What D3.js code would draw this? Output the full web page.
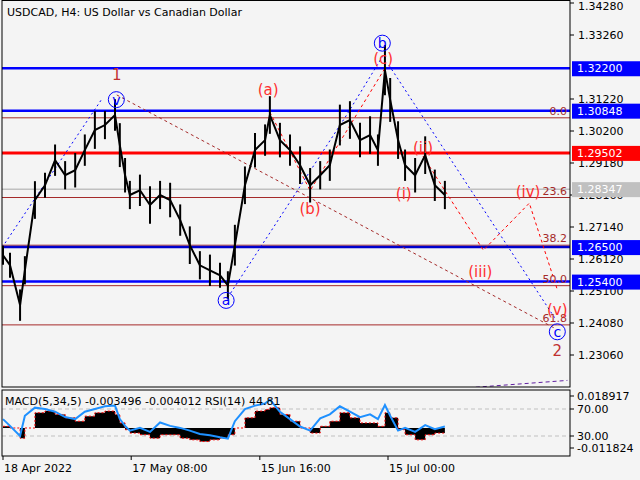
<!doctype html>
<html>
<head>
  <meta charset="UTF-8">
  <title>USDCAD H4</title>
  <style>
    body { margin: 0; background: #f4f4f4; }
    text { font-family: "DejaVu Sans", sans-serif; }
  </style>
</head>
<body>
  <script src="https://cdnjs.cloudflare.com/ajax/libs/d3/7.8.5/d3.min.js"></script>
  <script>
  // days after 18 Apr 2022, close prices
  var days = [0, 1.6, 3.9, 5.0, 7.3, 9.6, 11.9, 14.2, 16.5, 18.7, 21.0, 23.3, 25.6, 26.7, 27.9, 29.0, 31.3, 33.6, 35.9, 38.2,
    40.5, 42.7, 45.0, 47.3, 49.6, 51.4, 53.0, 55.3, 57.6, 59.9, 61.0, 63.3, 65.6, 67.9, 70.2, 72.5, 74.7, 77.0, 79.3, 81.6,
    83.9, 85.7, 87.3, 88.5, 90.3, 91.9, 94.2, 96.5, 98.7, 101];
  var closes = [1.2624, 1.2592, 1.2465, 1.2576, 1.2800, 1.2847, 1.2927, 1.2879, 1.2895, 1.2959, 1.3023, 1.3039, 1.3071, 1.2975, 1.2879, 1.2816, 1.2831, 1.2784, 1.2816, 1.2800,
    1.2736, 1.2656, 1.2592, 1.2576, 1.2560, 1.2528, 1.2656, 1.2847, 1.2959, 1.2991, 1.3071, 1.2991, 1.2959, 1.2911, 1.2847, 1.2879, 1.2911, 1.3039, 1.3055, 1.2991,
    1.3007, 1.2959, 1.3214, 1.3119, 1.2991, 1.2911, 1.2879, 1.2943, 1.2847, 1.2816];
  // bar ranges (high - low) around each close
  var ranges = [0.006, 0.008, 0.010, 0.009, 0.012, 0.008, 0.010, 0.009, 0.011, 0.010, 0.012, 0.009, 0.010, 0.014, 0.011, 0.009, 0.010, 0.012, 0.009, 0.011,
    0.010, 0.012, 0.009, 0.010, 0.008, 0.009, 0.013, 0.012, 0.011, 0.010, 0.012, 0.011, 0.010, 0.012, 0.011, 0.009, 0.010, 0.013, 0.012, 0.011,
    0.012, 0.010, 0.016, 0.014, 0.012, 0.010, 0.011, 0.012, 0.010, 0.009];
  var rsi = [55, 45, 30, 60, 72, 70, 66, 58, 55, 66, 70, 74, 75, 55, 45, 38, 42, 36, 50, 45,
    42, 38, 33, 31, 28, 26, 52, 70, 75, 78, 84, 66, 55, 44, 38, 56, 62, 74, 66, 58,
    62, 55, 76, 60, 38, 42, 36, 46, 40, 44];
  var macd = [0.001, 0.000, -0.006, 0.000, 0.009, 0.010, 0.008, 0.006, 0.004, 0.007, 0.009, 0.010, 0.008, 0.003, -0.001, -0.003, -0.004, -0.006, -0.004, -0.004,
    -0.006, -0.007, -0.008, -0.007, -0.006, -0.004, 0.000, 0.006, 0.010, 0.011, 0.012, 0.008, 0.004, 0.000, -0.003, 0.001, 0.004, 0.009, 0.006, 0.003,
    0.003, 0.001, 0.009, 0.006, -0.001, -0.004, -0.007, -0.004, -0.003, -0.003];
  var priceTicks = [1.34280, 1.33260, 1.31220, 1.30200, 1.29180, 1.28160, 1.27140, 1.26120, 1.25100, 1.24080, 1.23060];
  var dateTicks = [[0, '18 Apr 2022'], [29.3, '17 May 08:00'], [58.7, '15 Jun 16:00'], [88, '15 Jul 00:00']];
  // horizontal levels: price, colour, width, label box colour
  var levels = [[1.32200, '#0000ff', 2.5, '#0000ff'], [1.30848, '#0000ff', 2.5, '#0000ff'], [1.29502, '#ff0000', 3, '#ff0000'],
    [1.28347, '#c0c0c0', 1.5, '#c0c0c0'], [1.26500, '#0000cc', 2.5, '#0000ff'], [1.25400, '#0000ff', 2.5, '#0000ff']];
  var fibs = [[1.3062, '0.0'], [1.2808, '23.6'], [1.2656, '38.2'], [1.2527, '50.0'], [1.2402, '61.8']];
  // wave paths [day, price]
  var blueWaves = [[[-4, 1.2570], [22.5, 1.3120]], [[51.4, 1.2490], [78.5, 1.3070], [87.3, 1.3270]],
    [[88.2, 1.3230], [126.3, 1.2420]]];
  var redWaves = [[[61.0, 1.3080], [70.2, 1.2830], [87.3, 1.3220]],
    [[96.0, 1.2940], [101, 1.2830], [109.8, 1.2640], [120.3, 1.2790], [126.8, 1.2510]]];
  var brownWaves = [[[26.0, 1.3135], [126.3, 1.2390]]];
  var purpleWave = [[95.3, 1.2190], [129, 1.2225]];
  var waveLabels = [[26, 1.3200, '1', '#c03030', 'plain'], [126.7, 1.2320, '2', '#c03030', 'plain'],
    [25.9, 1.3120, 'v', '#0000ff', 'circle'], [51.0, 1.2480, 'a', '#0000ff', 'circle'], [86.7, 1.3300, 'b', '#0000ff', 'circle'], [126.7, 1.2380, 'c', '#0000ff', 'circle'],
    [60.6, 1.3150, '(a)', '#ff3030', 'plain'], [70.2, 1.2770, '(b)', '#ff3030', 'plain'], [86.9, 1.3250, '(c)', '#ff3030', 'plain'],
    [91.6, 1.2820, '(i)', '#ff3030', 'plain'], [96.0, 1.2965, '(ii)', '#ff3030', 'plain'], [109.1, 1.2570, '(iii)', '#ff3030', 'plain'],
    [120.0, 1.2825, '(iv)', '#ff3030', 'plain'], [126.7, 1.2450, '(v)', '#ff3030', 'plain']];

  var W = 640, H = 480, R = 570;
  var svg = d3.select('body').append('svg').attr('width', W).attr('height', H)
    .style('display', 'block').style('background', '#f4f4f4');
  var t0 = new Date(2022, 3, 18);
  var dt = function(d) { return new Date(t0.getTime() + d * 864e5); };
  var x = d3.scaleTime().domain([dt(0), dt(88)]).range([3, 388]);
  var y = d3.scaleLinear().domain([1.3428, 1.2306]).range([3, 355]);

  var main = svg.append('g');
  var defs = svg.append('defs');
  defs.append('clipPath').attr('id', 'clipm').append('rect')
    .attr('x', 2).attr('y', 1).attr('width', R - 2).attr('height', 386);
  var plot = main.append('g').attr('clip-path', 'url(#clipm)');

  fibs.forEach(function(f) {
    plot.append('line').attr('x1', 0).attr('x2', R).attr('y1', y(f[0])).attr('y2', y(f[0]))
      .attr('stroke', '#a52a2a').attr('stroke-width', 1);
    main.append('text').attr('x', 567).attr('y', y(f[0]) - 3).attr('text-anchor', 'end')
      .attr('font-size', 11).attr('fill', '#a52a2a').text(f[1]);
  });
  levels.forEach(function(l) {
    plot.append('line').attr('x1', 0).attr('x2', R).attr('y1', y(l[0])).attr('y2', y(l[0]))
      .attr('stroke', l[1]).attr('stroke-width', l[2]);
  });

  var lp = d3.line().x(function(p) { return x(dt(p[0])); }).y(function(p) { return y(p[1]); });
  var drawPaths = function(list, color, dash) {
    list.forEach(function(p) {
      plot.append('path').attr('d', lp(p)).attr('fill', 'none').attr('stroke', color)
        .attr('stroke-width', 1).attr('stroke-dasharray', dash);
    });
  };
  drawPaths(brownWaves, '#a52a2a', '3,3');
  drawPaths(blueWaves, '#0000ff', '2,3');
  drawPaths(redWaves, '#ff0000', '3,3');
  drawPaths([purpleWave], '#6020a0', '4,3');

  var series = days.map(function(d, i) { return [d, closes[i]]; });
  plot.selectAll('line.bar').data(series).enter().append('line').attr('class', 'bar')
    .attr('x1', function(d) { return x(dt(d[0])); }).attr('x2', function(d) { return x(dt(d[0])); })
    .attr('y1', function(d, i) { return y(d[1] + ranges[i] / 2); })
    .attr('y2', function(d, i) { return y(d[1] - ranges[i] / 2); })
    .attr('stroke', '#000').attr('stroke-width', 2);
  plot.append('path').attr('d', lp(series)).attr('fill', 'none').attr('stroke', '#000')
    .attr('stroke-width', 2);

  waveLabels.forEach(function(w) {
    var cx = x(dt(w[0])), cy = y(w[1]);
    if (w[4] == 'circle') {
      main.append('circle').attr('cx', cx).attr('cy', cy).attr('r', 8).attr('fill', 'none')
        .attr('stroke', w[3]).attr('stroke-width', 1);
    }
    main.append('text').attr('x', cx).attr('y', cy + 5).attr('text-anchor', 'middle')
      .attr('font-size', w[4] == 'circle' ? 14 : 15).attr('fill', w[3]).text(w[2]);
  });

  main.append('text').attr('x', 7).attr('y', 16).attr('font-size', 11).attr('fill', '#000')
    .text('USDCAD, H4:  US Dollar vs Canadian Dollar');
  main.append('rect').attr('x', 2).attr('y', 0.5).attr('width', R - 2).attr('height', 386.5)
    .attr('fill', 'none').attr('stroke', '#000');

  // right price axis
  var ax = svg.append('g').attr('transform', 'translate(' + R + ',0)');
  priceTicks.forEach(function(p) {
    ax.append('line').attr('x1', 0).attr('x2', 4).attr('y1', y(p)).attr('y2', y(p)).attr('stroke', '#000');
    ax.append('text').attr('x', 8).attr('y', Math.max(y(p) + 4, 10)).attr('font-size', 11).text(p.toFixed(5));
  });
  levels.forEach(function(l) {
    ax.append('rect').attr('x', 2).attr('y', y(l[0]) - 7).attr('width', 68).attr('height', 15).attr('fill', l[3]);
    ax.append('text').attr('x', 7).attr('y', y(l[0]) + 4).attr('font-size', 11).attr('fill', '#fff').text(l[0].toFixed(5));
  });

  // indicator panel
  var pTop = 390, pBot = 456;
  var yr = d3.scaleLinear().domain([30, 70]).range([436, 409]);
  var ym = d3.scaleLinear().domain([-0.011824, 0.018917]).range([448, 396]);
  var sub = svg.append('g');
  defs.append('clipPath').attr('id', 'clips').append('rect').attr('x', 2).attr('y', pTop).attr('width', R - 2).attr('height', pBot - pTop);
  var sp = sub.append('g').attr('clip-path', 'url(#clips)');
  [70, 30].forEach(function(v) {
    sp.append('line').attr('x1', 2).attr('x2', R).attr('y1', yr(v)).attr('y2', yr(v))
      .attr('stroke', '#c0c0c0').attr('stroke-dasharray', '4,3');
  });
  var area = d3.area().curve(d3.curveStepAfter).x(function(d, i) { return x(dt(days[i])); })
    .y0(ym(0)).y1(function(d) { return ym(d); });
  sp.append('path').attr('d', area(macd)).attr('fill', '#000');
  var sig = d3.line().curve(d3.curveStepAfter).x(function(d, i) { return x(dt(days[i])); }).y(function(d) { return ym(d); });
  sp.append('path').attr('d', sig(macd)).attr('fill', 'none').attr('stroke', '#ff0000').attr('stroke-dasharray', '2,2');
  var rl = d3.line().x(function(d, i) { return x(dt(days[i])); }).y(function(d) { return yr(d); });
  sp.append('path').attr('d', rl(rsi)).attr('fill', 'none').attr('stroke', '#1e90ff').attr('stroke-width', 2);
  sub.append('text').attr('x', 5).attr('y', 405).attr('font-size', 11)
    .text('MACD(5,34,5) -0.003496 -0.004012 RSI(14) 44.81');
  sub.append('rect').attr('x', 2).attr('y', pTop).attr('width', R - 2).attr('height', pBot - pTop)
    .attr('fill', 'none').attr('stroke', '#000');
  [[396, '0.018917'], [yr(70), '70.00'], [yr(30), '30.00'], [448, '-0.011824']].forEach(function(t) {
    sub.append('line').attr('x1', R).attr('x2', R + 4).attr('y1', t[0]).attr('y2', t[0]).attr('stroke', '#000');
    sub.append('text').attr('x', R + 7).attr('y', t[0] + 4).attr('font-size', 11).text(t[1]);
  });

  // date axis
  dateTicks.forEach(function(t) {
    var tx = x(dt(t[0]));
    svg.append('line').attr('x1', tx).attr('x2', tx).attr('y1', pBot).attr('y2', pBot + 4).attr('stroke', '#000');
    svg.append('text').attr('x', tx + 1).attr('y', 472).attr('font-size', 11).text(t[1]);
  });
  </script>
</body>
</html>
